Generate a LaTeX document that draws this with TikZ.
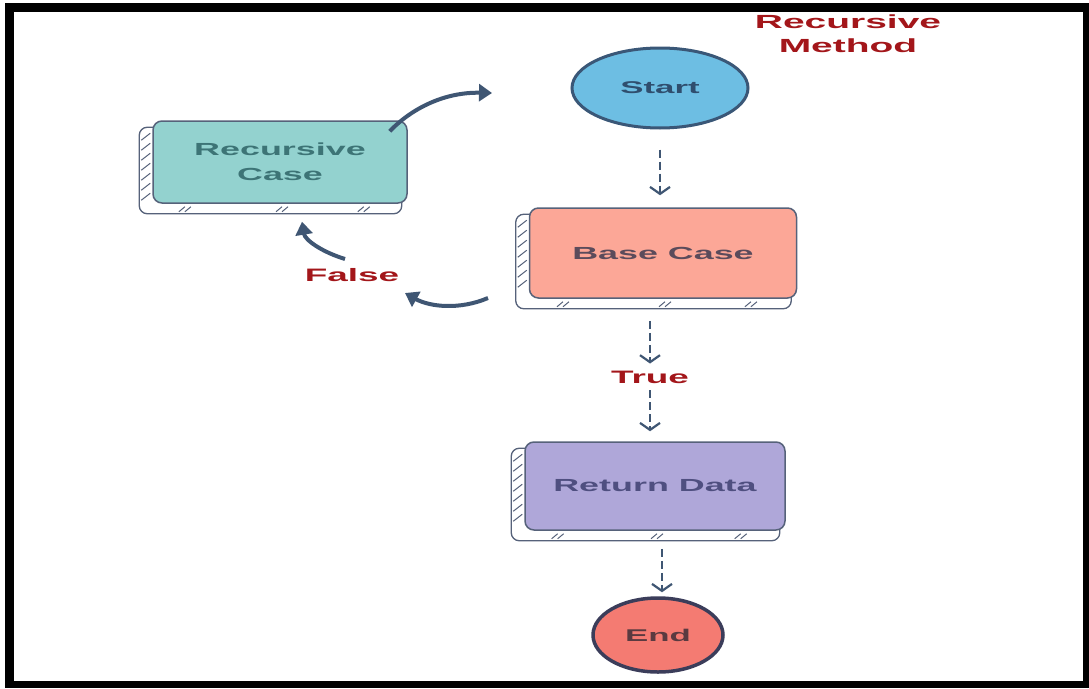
\documentclass[tikz,border=0pt]{standalone}
\usepackage{fontspec}
\setmainfont{Liberation Sans}
\newfontfamily\widesans{Liberation Sans}[FakeStretch=2.05]
\usetikzlibrary{arrows.meta,backgrounds,calc,shapes.geometric}

\definecolor{edgec}{HTML}{56627A}
\definecolor{arrowc}{HTML}{3F5673}
\definecolor{lblred}{HTML}{A3161A}
\definecolor{startfill}{HTML}{6DBEE3}
\definecolor{startedge}{HTML}{3A5777}
\definecolor{starttext}{HTML}{2F4E6E}
\definecolor{recfill}{HTML}{93D2CF}
\definecolor{rectext}{HTML}{3D7476}
\definecolor{basefill}{HTML}{FCA797}
\definecolor{basetext}{HTML}{5B4B5B}
\definecolor{retfill}{HTML}{AFA7D9}
\definecolor{rettext}{HTML}{4F4F80}
\definecolor{endfill}{HTML}{F47B72}
\definecolor{endedge}{HTML}{3B3D5A}
\definecolor{endtext}{HTML}{5A3A40}

\tikzset{
  slab/.style={draw=edgec, line width=1.5pt, rounded corners=9pt,
    align=center, inner sep=0pt,
    font=\widesans\bfseries\fontsize{17.5}{25}\selectfont},
  term/.style={ellipse, line width=3pt, inner sep=0pt,
    font=\widesans\bfseries\fontsize{17}{20}\selectfont},
  flow/.style={draw=arrowc, line width=2.8pt, dash pattern=on 8pt off 4pt,
    -{Straight Barb[length=7pt,width=20pt,line width=2.2pt]}},
  loopback/.style={draw=arrowc, line width=4pt,
    -{Triangle[length=13pt,width=17pt]}},
  redlbl/.style={text=lblred, inner sep=0pt,
    font=\widesans\bfseries\fontsize{18}{24}\selectfont},
  hatch/.style={draw=edgec, line width=1pt}
}

% the raised back edge of a slab: a white plate shifted down-left, with hatching
\newcommand\slabback[1]{%
  \begin{scope}[on background layer]
    \draw[draw=edgec, line width=1.3pt, fill=white, rounded corners=8pt]
      ($(#1.north west)+(-13,7)$) rectangle ($(#1.south east)+(-6,10)$);
    \foreach \k in {0,...,6}
      \draw[hatch] ($(#1.north west)+(-11,20+\k*10)$) -- ($(#1.north west)+(-2,13+\k*10)$);
    \foreach \f in {0.12,0.5,0.82}{
      \draw[hatch] ($(#1.south west)!\f!(#1.south east)+(-4,8)$) -- ($(#1.south west)!\f!(#1.south east)+(2,3)$);
      \draw[hatch] ($(#1.south west)!\f!(#1.south east)+(2,8)$) -- ($(#1.south west)!\f!(#1.south east)+(8,3)$);
    }
  \end{scope}}

\begin{document}
\begin{tikzpicture}[x=1pt,y=-1pt]
  % page and frame
  \begin{scope}[on background layer]
    \fill[white] (0,0) rectangle (1089,688);
    \fill[black] (5,3) rectangle (1089,688);
    \fill[white] (14,12) rectangle (1083,681);
  \end{scope}
  \useasboundingbox (0,0) rectangle (1089,688);

  % terminals
  \node[term, draw=startedge, fill=startfill, text=starttext,
        minimum width=176pt, minimum height=80pt] (start) at (660,88) {Start};
  \node[term, draw=endedge, fill=endfill, text=endtext, line width=3.5pt,
        minimum width=130pt, minimum height=74pt] (end) at (658,635) {End};

  % process slabs
  \node[slab, fill=recfill, text=rectext, minimum width=254pt, minimum height=82pt]
    (rc) at (280,162) {Recursive\\Case};
  \node[slab, fill=basefill, text=basetext, minimum width=267pt, minimum height=90pt]
    (base) at (663,253) {Base Case};
  \node[slab, fill=retfill, text=rettext, minimum width=260pt, minimum height=88pt]
    (ret) at (655,486) {Return Data};
  \slabback{rc}
  \slabback{base}
  \slabback{ret}

  % labels
  \node[redlbl, align=center, font=\widesans\bfseries\fontsize{19}{24}\selectfont]
    (title) at (848,34) {Recursive\\Method};
  \node[redlbl] (true) at (650,377) {True};
  \node[redlbl] (false) at (352,275) {False};

  % dashed flow
  \draw[flow, shorten <=20pt, shorten >=12pt] (start.south) -- (start.south |- base.north);
  \draw[flow, shorten <=22pt, shorten >=7pt] (base.south -| true.north) -- (true.north);
  \draw[flow, shorten <=7pt, shorten >=10pt] (true.south) -- (true.south |- ret.north);
  \draw[flow, shorten <=18pt, shorten >=4pt] (ret.south -| end.north) ++(4,0) coordinate (rs) (rs) -- (rs |- end.north);

  % recursion loop
  \coordinate (toStart) at (492,93);
  \coordinate (fromBase) at (488,298);
  \coordinate (toFalse) at (405,293);
  \coordinate (fromFalse) at (345,259);
  \draw[loopback] ($(rc.north east)+(-18,11)$) .. controls (412,108) and (445,92) .. (toStart);
  \draw[loopback] (fromBase) .. controls (460,310) and (430,307) .. (toFalse);
  \draw[loopback] (fromFalse) .. controls (322,252) and (305,240) .. ($(rc.south)+(22,18)$);
\end{tikzpicture}
\end{document}
